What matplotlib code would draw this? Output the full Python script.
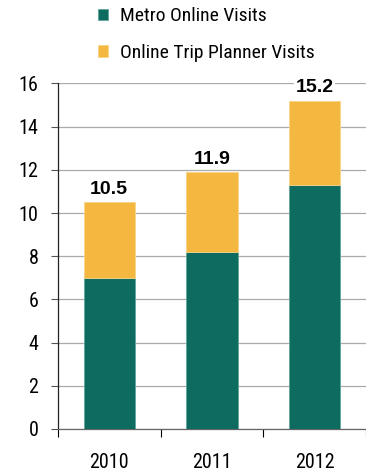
import matplotlib.pyplot as plt

years = ['2010', '2011', '2012']
metro_online = [7.0, 8.2, 11.3]
trip_planner = [3.5, 3.7, 3.9]
totals = [10.5, 11.9, 15.2]
y_ticks = [0, 2, 4, 6, 8, 10, 12, 14, 16]

GREEN = '#0d6b60'
YELLOW = '#f4b73f'

plt.rcParams['font.family'] = ['Roboto Condensed', 'DejaVu Sans']

fig = plt.figure(figsize=(3.66, 4.74), dpi=100)
ax = fig.add_axes([0.158, 0.095, 0.842, 0.729])

x = range(len(years))
ax.bar(x, metro_online, width=0.5, color=GREEN, edgecolor='#5fa69c', linewidth=0.6,
       label='Metro Online Visits', zorder=3)
ax.bar(x, trip_planner, width=0.5, bottom=metro_online, color=YELLOW,
       edgecolor='#f8d58a', linewidth=0.6, label='Online Trip Planner Visits', zorder=3)

# total labels above each stack
for i, t in enumerate(totals):
    ax.text(i, t + 0.2, f'{t:.1f}', ha='center', va='bottom', fontsize=14,
            fontweight='bold', family='Liberation Sans', zorder=4,
            bbox=dict(facecolor='white', edgecolor='none', pad=1))

ax.set_xlim(-0.5, 2.5)
ax.set_ylim(0, 16)
ax.set_yticks(y_ticks)
ax.tick_params(axis='y', labelsize=14.5, length=5, width=0.8, color='#555555', pad=9)
ax.yaxis.grid(True, color='#aaaaaa', linewidth=0.9, zorder=0)
ax.set_axisbelow(True)

# ticks between categories, labels centred under bars
ax.set_xticks([-0.5, 0.5, 1.5, 2.5], minor=False)
ax.set_xticklabels([])
ax.set_xticks(list(x), minor=True)
ax.set_xticklabels(years, minor=True)
ax.tick_params(axis='x', which='major', length=6, width=0.8, direction='out')
ax.tick_params(axis='x', which='minor', length=0, labelsize=14.5, pad=17)

for s in ['top', 'right']:
    ax.spines[s].set_visible(False)
ax.spines['left'].set_color('#222222')
ax.spines['left'].set_linewidth(0.9)
ax.spines['bottom'].set_color('#666666')
ax.spines['bottom'].set_linewidth(0.9)

fig.legend(loc='upper left', bbox_to_anchor=(0.24, 1.005), frameon=False,
           fontsize=14, handlelength=0.55, handleheight=0.55, handletextpad=0.6,
           labelspacing=0.95, borderaxespad=0.1)

fig.savefig('out.png', dpi=100)
